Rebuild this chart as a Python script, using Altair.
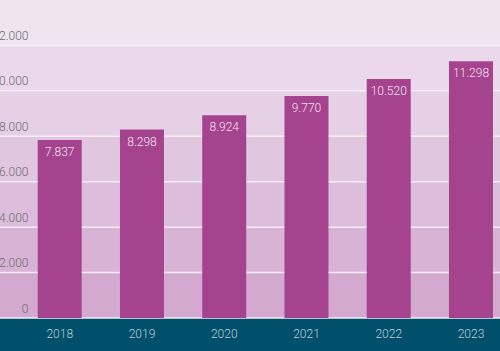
import altair as alt
import pandas as pd

years = ["2018", "2019", "2020", "2021", "2022", "2023"]
values = [7837, 8298, 8924, 9770, 10520, 11298]
y_ticks = [0, 2000, 4000, 6000, 8000, 10000, 12000]
stripe_edges = [0, 2000, 4000, 6000, 8000, 10000, 12000, 14000]
stripe_colors = ["#d3a9d0", "#d8b3d6", "#dcbddb", "#e1c6e0", "#e6d0e5", "#ebd9eb", "#f1e4f1"]

bars_df = pd.DataFrame({"year": years, "value": values})
stripes_df = pd.DataFrame({
    "y0": stripe_edges[:-1],
    "y1": stripe_edges[1:],
    "c": stripe_colors,
})
grid_df = pd.DataFrame({"v": y_ticks})

W, H = 500, 318
yscale = alt.Scale(domain=[0, 14000], nice=False, zero=True)
xscale = alt.Scale(paddingInner=0.465, paddingOuter=0.272, align=0.843)

yaxis = alt.Axis(
    values=y_ticks, orient="left", ticks=False, domain=False, grid=False,
    labelPadding=-28, labelAlign="right", labelBaseline="alphabetic",
    labelOffset=-6, labelFlush=False, labelColor="#6e6e6e",
    labelFontSize=12, labelFont="Roboto", labelFontWeight=300, title=None,
    zindex=2,
    labelExpr="replace(format(datum.value, ','), ',', '.')")
xaxis = alt.Axis(
    orient="bottom", ticks=False, domain=False, grid=False, labelAngle=0,
    labelPadding=10, labelColor="#b9cdd7", labelFontSize=12,
    labelFont="Roboto", labelFontWeight=300, title=None, zindex=2)

stripes = alt.Chart(stripes_df).mark_rect().encode(
    x=alt.value(0), x2=alt.value(W),
    y=alt.Y("y0:Q", scale=yscale, axis=yaxis, title=None),
    y2="y1:Q",
    color=alt.Color("c:N", scale=None),
)

grid = alt.Chart(grid_df).mark_rule(color="#f6eef6", strokeWidth=1.5).encode(
    x=alt.value(0), x2=alt.value(W),
    y=alt.Y("v:Q", scale=yscale, axis=yaxis, title=None),
)

bars = alt.Chart(bars_df).mark_bar(color="#a5438f").encode(
    x=alt.X("year:N", scale=xscale, sort=years, axis=xaxis, title=None),
    y=alt.Y("value:Q", scale=yscale, axis=yaxis, title=None),
)

labels = alt.Chart(bars_df).transform_calculate(
    lbl="replace(format(datum.value, ','), ',', '.')"
).mark_text(baseline="alphabetic", dy=16, color="#f6e2f1", fontSize=12,
            font="Roboto", fontWeight=300).encode(
    x=alt.X("year:N", scale=xscale, sort=years, axis=xaxis, title=None),
    y=alt.Y("value:Q", scale=yscale, axis=yaxis, title=None),
    text="lbl:N",
)

chart = alt.layer(stripes, grid, bars, labels).properties(
    width=W, height=H,
    autosize=alt.AutoSizeParams(type="none"),
    padding={"left": 0, "right": 0, "top": 0, "bottom": 33},
    background="#01506b",
).configure_view(stroke=None)

chart.save("out.html", embed_options={"renderer": "svg", "actions": False})
